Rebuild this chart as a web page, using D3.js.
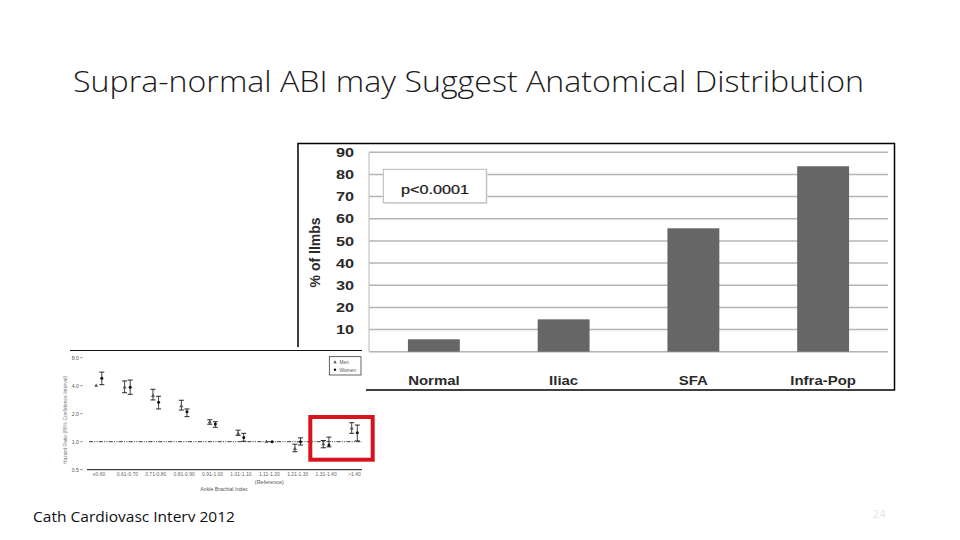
<!DOCTYPE html>
<html>
<head>
<meta charset="utf-8">
<script src="https://cdn.jsdelivr.net/npm/d3@7"></script>
<style>
  html, body { margin: 0; padding: 0; background: #fff; }
  svg { display: block; }
</style>
</head>
<body>
<svg id="slide" width="960" height="540"></svg>
<script>
// ---- Main bar chart data ----
const categories = ["Normal", "Iliac", "SFA", "Infra-Pop"];
const pctLimbs = [5.6, 14.6, 55.7, 83.7];
const yTicks = [10, 20, 30, 40, 50, 60, 70, 80, 90];
const gridValues = [0, 10, 20, 30, 40, 50, 60, 70, 80, 90];

// ---- Inset hazard-ratio chart data ----
const abiCats = ["≤0.60", "0.61-0.70", "0.71-0.80", "0.81-0.90", "0.91-1.00",
                 "1.01-1.10", "1.11-1.20", "1.21-1.30", "1.31-1.40", ">1.40"];
const hrTicks = [0.5, 1.0, 2.0, 4.0, 8.0];
const menHR  = [4.0, 3.85, 3.12, 2.42, 1.62, 1.22, 1.0, 0.84, 0.94, 1.39];
const menLo  = [null, 3.36, 2.81, 2.19, 1.54, 1.17, null, 0.78, 0.86, 1.23];
const menHi  = [null, 4.5, 3.66, 2.79, 1.72, 1.33, null, 0.94, 1.03, 1.6];
const womenHR = [4.8, 3.85, 2.65, 2.1, 1.55, 1.11, 1.0, 1.0, 0.92, 1.25];
const womenLo = [4.1, 3.23, 2.25, 1.86, 1.43, 1.01, null, 0.92, 0.88, 1.02];
const womenHi = [5.6, 4.6, 3.08, 2.25, 1.64, 1.23, null, 1.1, 1.12, 1.51];

const svg = d3.select("#slide");

// ---- Title ----
svg.append("text")
  .attr("x", 73).attr("y", 92)
  .attr("font-family", "'Open Sans', 'Noto Sans', sans-serif")
  .attr("font-size", 29.5).attr("font-weight", 300)
  .attr("fill", "#1a1a1a")
  .attr("textLength", 791).attr("lengthAdjust", "spacingAndGlyphs")
  .text("Supra-normal ABI may Suggest Anatomical Distribution");

// ---- Main chart ----
const main = svg.append("g");
const boldFont = "'Liberation Sans', Arial, sans-serif";

main.append("rect")
  .attr("x", 298).attr("y", 143.5).attr("width", 596.5).attr("height", 246.5)
  .attr("fill", "#fff").attr("stroke", "#000").attr("stroke-width", 1.5);

const x = d3.scaleBand().domain(categories).range([369, 888]).paddingInner(0.6).paddingOuter(0.3);
const y = d3.scaleLinear().domain([0, 90]).range([351.7, 152.3]);

// gridlines
main.append("g").selectAll("line").data(gridValues).join("line")
  .attr("x1", 369).attr("x2", 888)
  .attr("y1", d => y(d)).attr("y2", d => y(d))
  .attr("stroke", "#b4b4b4").attr("stroke-width", 1.5);
main.append("line")
  .attr("x1", 369).attr("x2", 369).attr("y1", y(90)).attr("y2", y(0))
  .attr("stroke", "#c4c4c4").attr("stroke-width", 1.2);

// bars
main.append("g").selectAll("rect").data(categories).join("rect")
  .attr("x", d => x(d)).attr("width", x.bandwidth())
  .attr("y", (d, i) => y(pctLimbs[i]))
  .attr("height", (d, i) => y(0) - y(pctLimbs[i]))
  .attr("fill", "#666666");

// y tick labels
main.append("g").selectAll("text").data(yTicks).join("text")
  .attr("transform", d => `translate(354,${y(d) + 4.6}) scale(1.3,1)`)
  .attr("text-anchor", "end")
  .attr("font-family", boldFont).attr("font-weight", "bold").attr("font-size", 12.5)
  .attr("fill", "#2a2a2a")
  .text(d => d);

// x labels
main.append("g").selectAll("text").data(categories).join("text")
  .attr("transform", d => `translate(${x(d) + x.bandwidth() / 2},385) scale(1.15,1)`)
  .attr("text-anchor", "middle")
  .attr("font-family", boldFont).attr("font-weight", "bold").attr("font-size", 13)
  .attr("fill", "#2a2a2a")
  .text(d => d);

// y axis title
main.append("text")
  .attr("transform", "translate(320,252.4) rotate(-90)")
  .attr("text-anchor", "middle")
  .attr("font-family", boldFont).attr("font-weight", "bold").attr("font-size", 14)
  .attr("fill", "#2a2a2a")
  .text("% of llmbs");

// p-value box
main.append("rect")
  .attr("x", 384.5).attr("y", 170.5).attr("width", 103).attr("height", 33.5)
  .attr("fill", "#e2e2e2");
main.append("rect")
  .attr("x", 383.3).attr("y", 169.3).attr("width", 103).attr("height", 33.5)
  .attr("fill", "#fff").attr("stroke", "#b8b8b8").attr("stroke-width", 1);
main.append("text")
  .attr("transform", "translate(435,194.3) scale(1.2,1)")
  .attr("text-anchor", "middle")
  .attr("font-family", boldFont).attr("font-size", 13.5)
  .attr("fill", "#1a1a1a").attr("stroke", "#1a1a1a").attr("stroke-width", 0.25)
  .text("p<0.0001");

// ---- Inset hazard ratio chart ----
const inset = svg.append("g");
inset.append("rect")
  .attr("x", 58).attr("y", 347).attr("width", 308).attr("height", 150)
  .attr("fill", "#fff");
inset.append("line")
  .attr("x1", 70).attr("x2", 362).attr("y1", 350.5).attr("y2", 350.5)
  .attr("stroke", "#111").attr("stroke-width", 1.2);

const px = d3.scalePoint().domain(abiCats).range([99, 354.5]);
const hy = d3.scaleLog().base(2).domain([0.5, 8]).range([469.7, 357.7]);
const tinyFont = "'Liberation Sans', Arial, sans-serif";

// bottom axis line
inset.append("line")
  .attr("x1", 87).attr("x2", 362).attr("y1", hy(0.5)).attr("y2", hy(0.5))
  .attr("stroke", "#111").attr("stroke-width", 1);

// y tick labels + tick marks
const yt = inset.append("g").selectAll("g").data(hrTicks).join("g");
yt.append("text")
  .attr("x", 79).attr("y", d => hy(d) + 1.8)
  .attr("text-anchor", "end")
  .attr("font-family", tinyFont).attr("font-size", 5.2).attr("fill", "#555")
  .text(d => d.toFixed(1));
yt.append("line")
  .attr("x1", 80).attr("x2", 83).attr("y1", d => hy(d)).attr("y2", d => hy(d))
  .attr("stroke", "#666").attr("stroke-width", 0.6);

// y title
inset.append("text")
  .attr("transform", `translate(67,${(373 + 467) / 2}) rotate(-90)`)
  .attr("text-anchor", "middle")
  .attr("font-family", tinyFont).attr("font-size", 5).attr("fill", "#777")
  .text("Hazard Ratio (95% Confidence Interval)");

// x labels
inset.append("g").selectAll("text").data(abiCats).join("text")
  .attr("x", d => px(d)).attr("y", 476)
  .attr("text-anchor", "middle")
  .attr("font-family", tinyFont).attr("font-size", 5).attr("fill", "#666")
  .text(d => d);
inset.append("text")
  .attr("x", px(abiCats[6])).attr("y", 483.5)
  .attr("text-anchor", "middle")
  .attr("font-family", tinyFont).attr("font-size", 5.5).attr("fill", "#555")
  .text("(Reference)");
inset.append("text")
  .attr("x", 224).attr("y", 490.5)
  .attr("text-anchor", "middle")
  .attr("font-family", tinyFont).attr("font-size", 5.2).attr("fill", "#555")
  .text("Ankle Brachial Index");

// reference line
inset.append("line")
  .attr("x1", 89).attr("x2", 362).attr("y1", hy(1)).attr("y2", hy(1))
  .attr("stroke", "#222").attr("stroke-width", 0.9)
  .attr("stroke-dasharray", "4,1.3,1,1.3,1,1.3");

// error bars helper
function errorBars(g, offset, hr, lo, hi) {
  abiCats.forEach((c, i) => {
    if (lo[i] == null || hi[i] == null) return;
    const cx = px(c) + offset;
    g.append("line").attr("x1", cx).attr("x2", cx)
      .attr("y1", hy(hi[i])).attr("y2", hy(lo[i]))
      .attr("stroke", "#111").attr("stroke-width", 0.8);
    [hi[i], lo[i]].forEach(v => {
      g.append("line").attr("x1", cx - 2.5).attr("x2", cx + 2.5)
        .attr("y1", hy(v)).attr("y2", hy(v))
        .attr("stroke", "#111").attr("stroke-width", 0.9);
    });
  });
}
const eb = inset.append("g");
errorBars(eb, -2.8, menHR, menLo, menHi);
errorBars(eb, 2.8, womenHR, womenLo, womenHi);

// men markers (triangles)
inset.append("g").selectAll("path").data(abiCats).join("path")
  .attr("d", d3.symbol(d3.symbolTriangle, 7))
  .attr("transform", (d, i) => `translate(${px(d) - 2.8},${hy(menHR[i])})`)
  .attr("fill", "#555");
// women markers (circles)
inset.append("g").selectAll("circle").data(abiCats).join("circle")
  .attr("cx", d => px(d) + 2.8).attr("cy", (d, i) => hy(womenHR[i]))
  .attr("r", 1.5).attr("fill", "#111");

// legend
const lg = inset.append("g");
lg.append("rect").attr("x", 329.3).attr("y", 356.7).attr("width", 31.7).attr("height", 18.3)
  .attr("fill", "#fff").attr("stroke", "#222").attr("stroke-width", 0.7);
lg.append("path").attr("d", d3.symbol(d3.symbolTriangle, 5))
  .attr("transform", "translate(335,362.3)").attr("fill", "#555");
lg.append("circle").attr("cx", 335).attr("cy", 369.8).attr("r", 1.2).attr("fill", "#111");
lg.append("text").attr("x", 339.5).attr("y", 364)
  .attr("font-family", tinyFont).attr("font-size", 4.8).attr("fill", "#555").text("Men");
lg.append("text").attr("x", 339.5).attr("y", 371.5)
  .attr("font-family", tinyFont).attr("font-size", 4.8).attr("fill", "#555").text("Women");

// red highlight box
svg.append("rect")
  .attr("x", 310.3).attr("y", 417).attr("width", 62.4).attr("height", 42.7)
  .attr("fill", "none").attr("stroke", "#d7141c").attr("stroke-width", 4);

// ---- Caption & page number ----
svg.append("text")
  .attr("x", 33).attr("y", 522)
  .attr("font-family", "'Open Sans', 'Noto Sans', sans-serif")
  .attr("font-size", 14.5).attr("fill", "#111")
  .attr("textLength", 202).attr("lengthAdjust", "spacingAndGlyphs")
  .text("Cath Cardiovasc Interv 2012");
svg.append("text")
  .attr("x", 873).attr("y", 518)
  .attr("font-family", "'Open Sans', sans-serif")
  .attr("font-size", 11).attr("fill", "#e4e4e4")
  .text("24");
</script>
</body>
</html>
